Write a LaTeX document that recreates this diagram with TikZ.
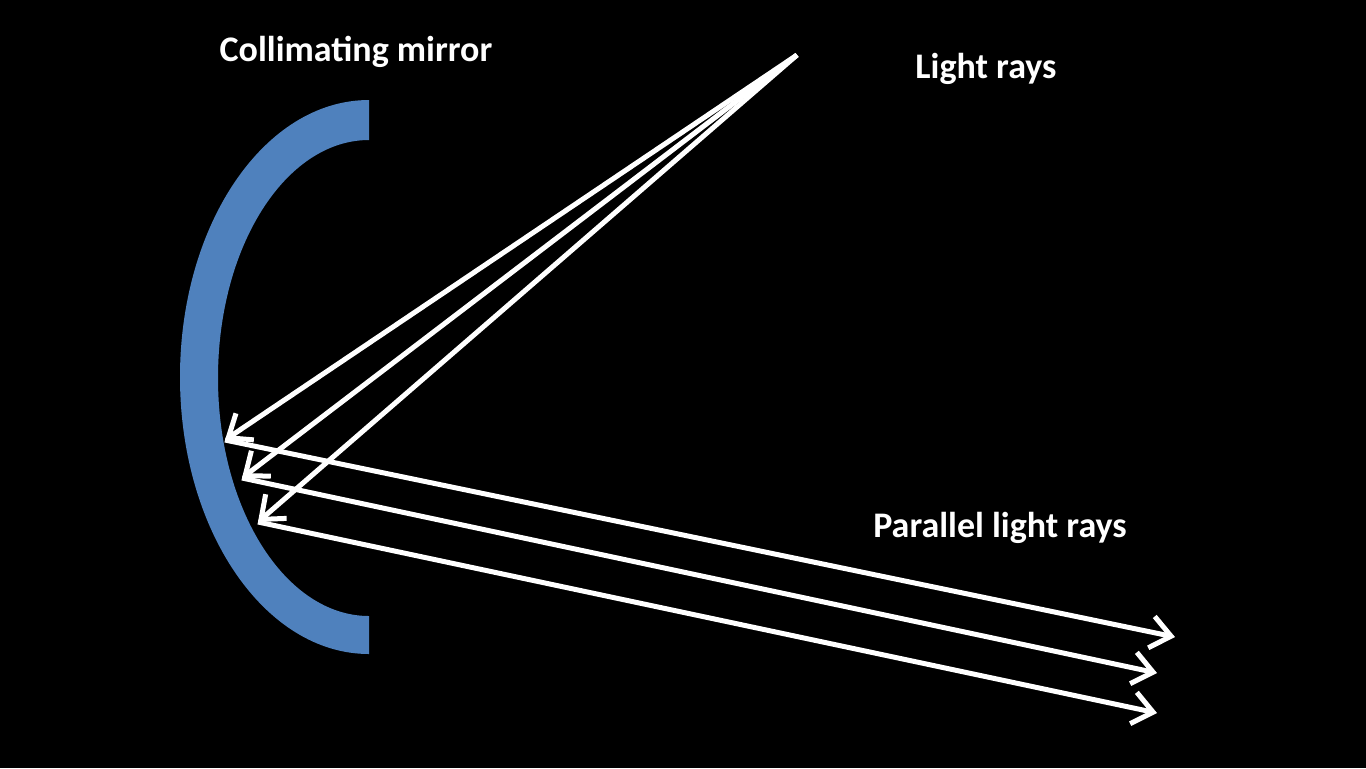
\documentclass[tikz,border=0pt]{standalone}
\usepackage{fontspec}
\setmainfont{Carlito}
\usetikzlibrary{arrows.meta}
\begin{document}
\begin{tikzpicture}[x=0.5pt,y=-0.5pt,
  ray/.style={white,line width=2.5pt,-{Straight Barb[length=10pt,width=16pt,line width=2.5pt]}},
  lbl/.style={white,font=\bfseries\fontsize{18}{20}\selectfont}]
\fill[black] (0,0) rectangle (1366,768);
\useasboundingbox (0,0) rectangle (1366,768);
\fill[color={rgb,255:red,79;green,129;blue,189}] (369,100) arc[start angle=-90,end angle=-270,x radius=189,y radius=277]
  -- (369,616) arc[start angle=-270,end angle=-90,x radius=151,y radius=238] -- cycle;
\coordinate (s) at (797,55);
\coordinate (m1) at (225,440);
\coordinate (m2) at (242,478);
\coordinate (m3) at (258,522);
\coordinate (e1) at (1175,637);
\coordinate (e2) at (1157,673);
\coordinate (e3) at (1157,713);
\draw[ray] (s) -- (m1);
\draw[ray] (s) -- (m2);
\draw[ray] (s) -- (m3);
\draw[ray] (m1) -- (e1);
\draw[ray] (m2) -- (e2);
\draw[ray] (m3) -- (e3);
\node[lbl] (t1) at (356,52) {Collimating mirror};
\node[lbl] (t2) at (986,69) {Light rays};
\node[lbl] (t3) at (1000,528) {Parallel light rays};
\end{tikzpicture}
\end{document}
